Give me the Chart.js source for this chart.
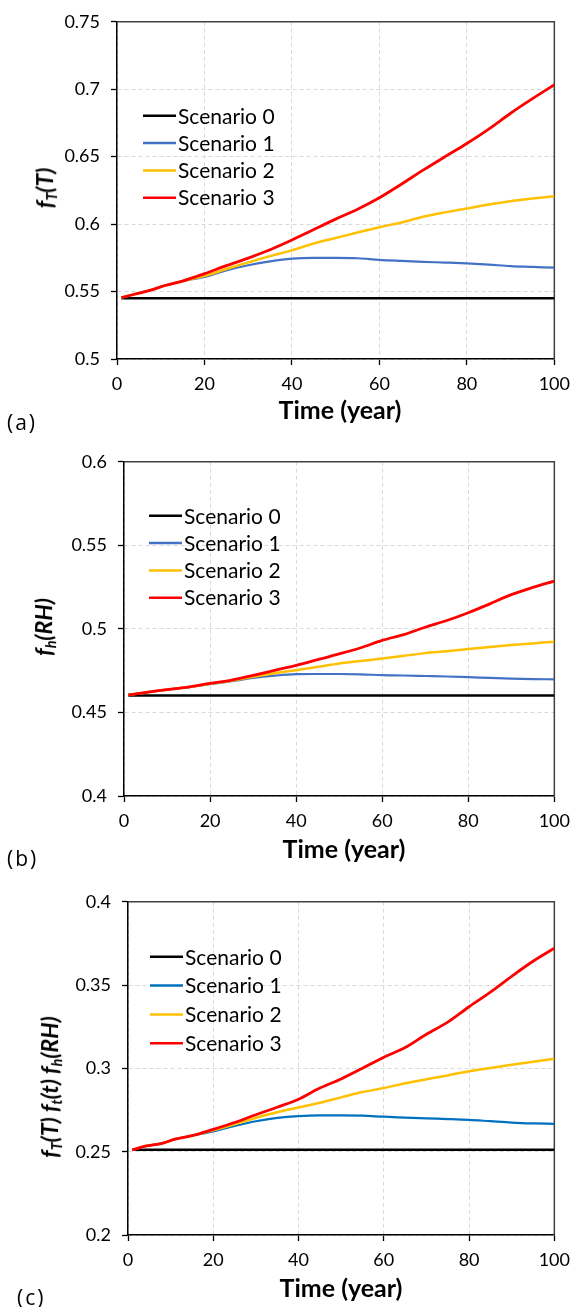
<!DOCTYPE html>
<html><head><meta charset="utf-8">
<script src="https://cdn.jsdelivr.net/npm/chart.js@4.4.1/dist/chart.umd.min.js"></script>
<style>
html,body{margin:0;padding:0;background:#fff;}
body{width:578px;height:1307px;position:relative;overflow:hidden;font-family:Lato,"Open Sans",sans-serif;}
canvas{position:absolute;left:0;}
.lbl{position:absolute;white-space:nowrap;color:#000;line-height:1;}
.xt{font-weight:bold;font-size:25px;transform:translate(-50%,-50%);}
.yt{font-weight:bold;font-style:italic;font-size:23px;transform:translate(-50%,-50%) rotate(-90deg);}
.yt sub{font-size:0.62em;vertical-align:-0.25em;}
.pn{font-family:"Open Sans",sans-serif;font-size:21px;letter-spacing:2px;transform:translate(0,-50%);}
</style></head>
<body>
<canvas id="ca" width="578" height="440" style="top:0px"></canvas>
<canvas id="cb" width="578" height="440" style="top:440px"></canvas>
<canvas id="cc" width="578" height="427" style="top:880px"></canvas>

<div class="lbl yt" style="left:46px;top:188px">f<sub>T</sub>(T)</div>
<div class="lbl xt" style="left:340px;top:409px">Time (year)</div>
<div class="lbl pn" style="left:7px;top:422px">(a)</div>

<div class="lbl yt" style="left:45px;top:627px">f<sub>h</sub>(RH)</div>
<div class="lbl xt" style="left:344px;top:848px">Time (year)</div>
<div class="lbl pn" style="left:7px;top:858px">(b)</div>

<div class="lbl yt" style="left:51px;top:1087px">f<sub>T</sub>(T) f<sub>t</sub>(t) f<sub>h</sub>(RH)</div>
<div class="lbl xt" style="left:341px;top:1287px">Time (year)</div>
<div class="lbl pn" style="left:17px;top:1297px">(c)</div>

<script>
// ---------------- data ----------------
const years = [1,4,8,11,15,20,25,30,35,40,45,50,55,60,65,70,75,80,85,90,95,100];
const seriesLabels = ['Scenario 0','Scenario 1','Scenario 2','Scenario 3'];
const colorsAB = ['#000000','#4472C4','#FFC000','#FF0000'];
const colorsC  = ['#000000','#0070C0','#FFC000','#FF0000'];
const xTickLabels = ['0','20','40','60','80','100'];

// (a) f_T(T)
const yTicksA = ['0.5','0.55','0.6','0.65','0.7','0.75'];
const a_s0 = [0.545,0.545,0.545,0.545,0.545,0.545,0.545,0.545,0.545,0.545,0.545,0.545,0.545,0.545,0.545,0.545,0.545,0.545,0.545,0.545,0.545,0.545];
const a_s1 = [0.5455,0.548,0.5513,0.5545,0.5578,0.5608,0.5657,0.5695,0.5724,0.5744,0.575,0.575,0.5747,0.5735,0.5727,0.572,0.5715,0.5709,0.57,0.5689,0.5683,0.5677];
const a_s2 = [0.5455,0.548,0.5513,0.5545,0.5578,0.5616,0.5667,0.5716,0.5763,0.5805,0.5856,0.5897,0.5938,0.5977,0.6012,0.6055,0.6087,0.6116,0.6145,0.617,0.619,0.6207];
const a_s3 = [0.5455,0.548,0.5513,0.5545,0.5578,0.5633,0.5692,0.5748,0.581,0.5882,0.596,0.6037,0.611,0.6195,0.6296,0.64,0.650,0.6598,0.6705,0.6822,0.693,0.7033];

// (b) f_h(RH)
const yTicksB = ['0.4','0.45','0.5','0.55','0.6'];
const b_s0 = [0.4602,0.4602,0.4602,0.4602,0.4602,0.4602,0.4602,0.4602,0.4602,0.4602,0.4602,0.4602,0.4602,0.4602,0.4602,0.4602,0.4602,0.4602,0.4602,0.4602,0.4602,0.4602];
const b_s1 = [0.4605,0.4615,0.463,0.464,0.4652,0.467,0.4687,0.4706,0.472,0.4729,0.473,0.473,0.4728,0.4723,0.4721,0.4718,0.4715,0.4711,0.4707,0.4703,0.47,0.4698];
const b_s2 = [0.4605,0.4615,0.463,0.464,0.4652,0.4672,0.469,0.4714,0.4735,0.4753,0.4773,0.4793,0.4808,0.4823,0.4839,0.4855,0.4866,0.488,0.4892,0.4903,0.4913,0.4923];
const b_s3 = [0.4605,0.4615,0.463,0.464,0.4652,0.4674,0.4694,0.4722,0.4752,0.4782,0.4816,0.485,0.4887,0.4931,0.4966,0.501,0.505,0.5097,0.515,0.5205,0.5248,0.5286];

// (c) f_T(T) f_t(t) f_h(RH)
const yTicksC = ['0.2','0.25','0.3','0.35','0.4'];
const c_s0 = [0.2511,0.2511,0.2511,0.2511,0.2511,0.2511,0.2511,0.2511,0.2511,0.2511,0.2511,0.2511,0.2511,0.2511,0.2511,0.2511,0.2511,0.2511,0.2511,0.2511,0.2511,0.2511];
const c_s1 = [0.2511,0.2533,0.255,0.2575,0.2596,0.2622,0.2655,0.2683,0.2703,0.2714,0.2718,0.2718,0.2716,0.271,0.2705,0.27,0.2696,0.2691,0.2683,0.2675,0.267,0.2667];
const c_s2 = [0.2511,0.2533,0.255,0.2575,0.2596,0.2628,0.2664,0.2704,0.2737,0.2765,0.2794,0.2826,0.2858,0.2882,0.2911,0.2935,0.2958,0.2983,0.3003,0.3022,0.304,0.3058];
const c_s3 = [0.2511,0.2533,0.255,0.2575,0.2596,0.2634,0.2675,0.2722,0.2767,0.2815,0.2882,0.2937,0.3001,0.3067,0.3125,0.3205,0.3278,0.337,0.3458,0.3553,0.3643,0.3721];

// ---------------- rendering ----------------
const FONT = 'Lato, "Open Sans", sans-serif';

function makeChart(id, series, colors, yMin, yMax, yTicks, layout, leg){
  const widths = [2.5, 2.2, 2.5, 2.8];
  const orders = [3, 2, 1, 0];
  const datasets = series.map((vals, i) => ({
    label: seriesLabels[i],
    data: years.map((x, k) => ({x: x, y: vals[k]})),
    borderColor: colors[i],
    backgroundColor: colors[i],
    borderWidth: widths[i],
    pointRadius: 0,
    fill: false,
    cubicInterpolationMode: 'monotone',
    order: orders[i]
  }));

  const frame = {
    id: 'frame_' + id,
    beforeDatasetsDraw(chart){
      const {ctx, chartArea: a} = chart;
      ctx.save();
      ctx.strokeStyle = '#404040';
      ctx.lineWidth = 1.5;
      ctx.beginPath();
      ctx.moveTo(a.left, a.top);
      ctx.lineTo(a.right, a.top);
      ctx.lineTo(a.right, a.bottom);
      ctx.stroke();
      ctx.restore();
    }
  };
  const legendIn = {
    id: 'legend_' + id,
    afterDatasetsDraw(chart){
      const {ctx, chartArea: a} = chart;
      ctx.save();
      ctx.font = '21px ' + FONT;
      ctx.textBaseline = 'middle';
      ctx.textAlign = 'left';
      chart.data.datasets.forEach((ds, i) => {
        const y = a.top + leg.top + i * leg.spacing;
        const x = a.left + leg.left;
        ctx.strokeStyle = ds.borderColor;
        ctx.lineWidth = 2.5;
        ctx.beginPath();
        ctx.moveTo(x, y);
        ctx.lineTo(x + 33, y);
        ctx.stroke();
        ctx.fillStyle = '#000';
        ctx.fillText(ds.label, x + 35, y + 1);
      });
      ctx.restore();
    }
  };

  new Chart(document.getElementById(id), {
    type: 'line',
    data: {datasets},
    plugins: [frame, legendIn],
    options: {
      responsive: false,
      animation: false,
      devicePixelRatio: 1,
      layout: {padding: layout.padding},
      plugins: {legend: {display: false}, tooltip: {enabled: false}},
      scales: {
        x: {
          type: 'linear', min: 0, max: 100,
          ticks: {stepSize: 20, color: '#000', font: {family: FONT, size: 18}, padding: 8, maxRotation: 0,
                  callback: v => xTickLabels[Math.round(v / 20)]},
          grid: {color: '#d9d9d9', lineWidth: 1, tickLength: 6, tickColor: '#000', tickWidth: 1.3, tickBorderDash: []},
          border: {display: true, color: '#000', width: 1.5, dash: [4, 3]},
          afterFit: s => { s.height = 40; }
        },
        y: {
          type: 'linear', min: yMin, max: yMax,
          ticks: {stepSize: 0.05, color: '#000', font: {family: FONT, size: 18}, padding: 11,
                  callback: v => { const k = Math.round((v - yMin) / 0.05); return yTicks[k]; }},
          grid: {color: '#d9d9d9', lineWidth: 1, tickLength: 6, tickColor: '#000', tickWidth: 1.3, tickBorderDash: []},
          border: {display: true, color: '#000', width: 1.5, dash: [4, 3]},
          afterFit: s => { s.width = layout.yWidth; }
        }
      }
    }
  });
}

makeChart('ca', [a_s0, a_s1, a_s2, a_s3], colorsAB, 0.5, 0.75, yTicksA,
  {padding: {left: 0, top: 18, right: 15, bottom: 41}, yWidth: 117},
  {left: 26, top: 94, spacing: 27.3});
makeChart('cb', [b_s0, b_s1, b_s2, b_s3], colorsAB, 0.4, 0.6, yTicksB,
  {padding: {left: 0, top: 15, right: 14, bottom: 44}, yWidth: 124},
  {left: 25, top: 54, spacing: 27.3});
makeChart('cc', [c_s0, c_s1, c_s2, c_s3], colorsC, 0.2, 0.4, yTicksC,
  {padding: {left: 0, top: 12, right: 23, bottom: 32}, yWidth: 128},
  {left: 22, top: 55, spacing: 28.8});
</script>
</body></html>
